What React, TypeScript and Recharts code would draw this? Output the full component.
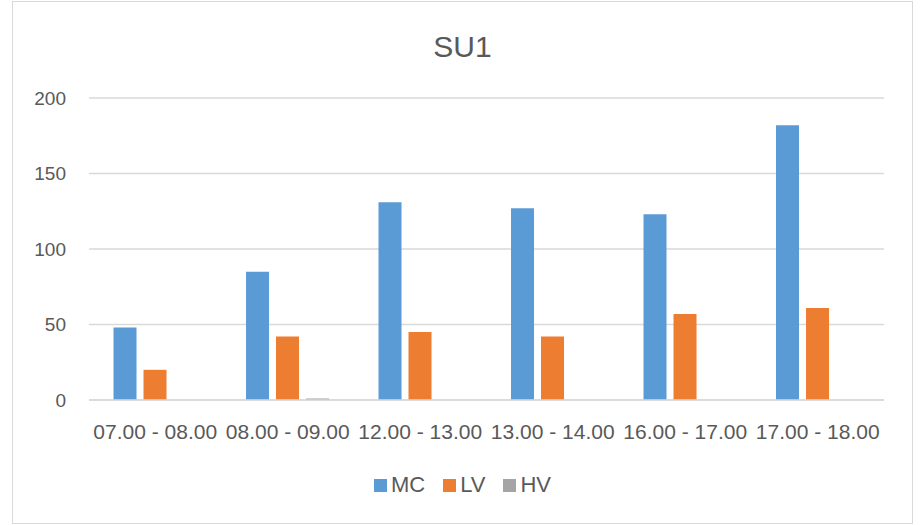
import React from "react";
import { BarChart, Bar, XAxis, YAxis, CartesianGrid, Legend } from "recharts";

const categories = ["07.00 - 08.00", "08.00 - 09.00", "12.00 - 13.00", "13.00 - 14.00", "16.00 - 17.00", "17.00 - 18.00"];
const mcValues = [48, 85, 131, 127, 123, 182];
const lvValues = [20, 42, 45, 42, 57, 61];
const hvValues = [0, 1, 0, 0, 0, 0];
const yTicks = [0, 50, 100, 150, 200];
const seriesNames = ["MC", "LV", "HV"];
const seriesColors = ["#5b9bd5", "#ed7d31", "#a5a5a5"];

const data = categories.map((c, i) => ({ name: c, MC: mcValues[i], LV: lvValues[i], HV: hvValues[i] }));

const FONT = "'Liberation Sans', Arial, sans-serif";
const TEXT = "#595959";

const LegendContent = () => (
  <div style={{ display: "flex", justifyContent: "center", alignItems: "center", fontFamily: FONT, fontSize: 22, color: TEXT }}>
    {seriesNames.map((n, i) => (
      <div key={n} style={{ display: "flex", alignItems: "center", marginRight: i < 2 ? 18 : 0 }}>
        <span style={{ display: "inline-block", width: 13, height: 13, background: seriesColors[i], marginRight: 4 }} />
        <span>{n}</span>
      </div>
    ))}
  </div>
);

export default function App() {
  return (
    <div style={{ position: "absolute", left: 12, top: 1, width: 899, height: 521, border: "1px solid #d9d9d9", background: "#fff" }}>
      <div style={{ position: "absolute", left: 0, top: 27, width: 899, textAlign: "center", fontFamily: FONT, fontSize: 30, color: TEXT, lineHeight: "36px" }}>
        SU1
      </div>
      <BarChart
        width={899}
        height={521}
        data={data}
        margin={{ top: 96, right: 28, left: 0, bottom: 0 }}
        barCategoryGap="18.5%"
        barGap={7}
      >
        <CartesianGrid vertical={false} stroke="#d9d9d9" strokeWidth={1.5} />
        <XAxis
          dataKey="name"
          height={123}
          tickLine={false}
          tickSize={0}
          tickMargin={24}
          axisLine={{ stroke: "#d9d9d9", strokeWidth: 1.5 }}
          tick={{ fill: TEXT, fontSize: 21, fontFamily: FONT }}
          interval={0}
        />
        <YAxis
          width={76}
          domain={[0, 200]}
          ticks={yTicks}
          axisLine={false}
          tickLine={false}
          tickSize={0}
          tickMargin={23}
          tick={{ fill: TEXT, fontSize: 19, fontFamily: FONT }}
        />
        <Legend
          layout="horizontal"
          verticalAlign="middle"
          align="center"
          content={<LegendContent />}
          wrapperStyle={{ top: 470, left: 0, width: 899 }}
        />
        <Bar dataKey="MC" fill={seriesColors[0]} isAnimationActive={false} />
        <Bar dataKey="LV" fill={seriesColors[1]} isAnimationActive={false} />
        <Bar dataKey="HV" fill={seriesColors[2]} isAnimationActive={false} />
      </BarChart>
    </div>
  );
}
